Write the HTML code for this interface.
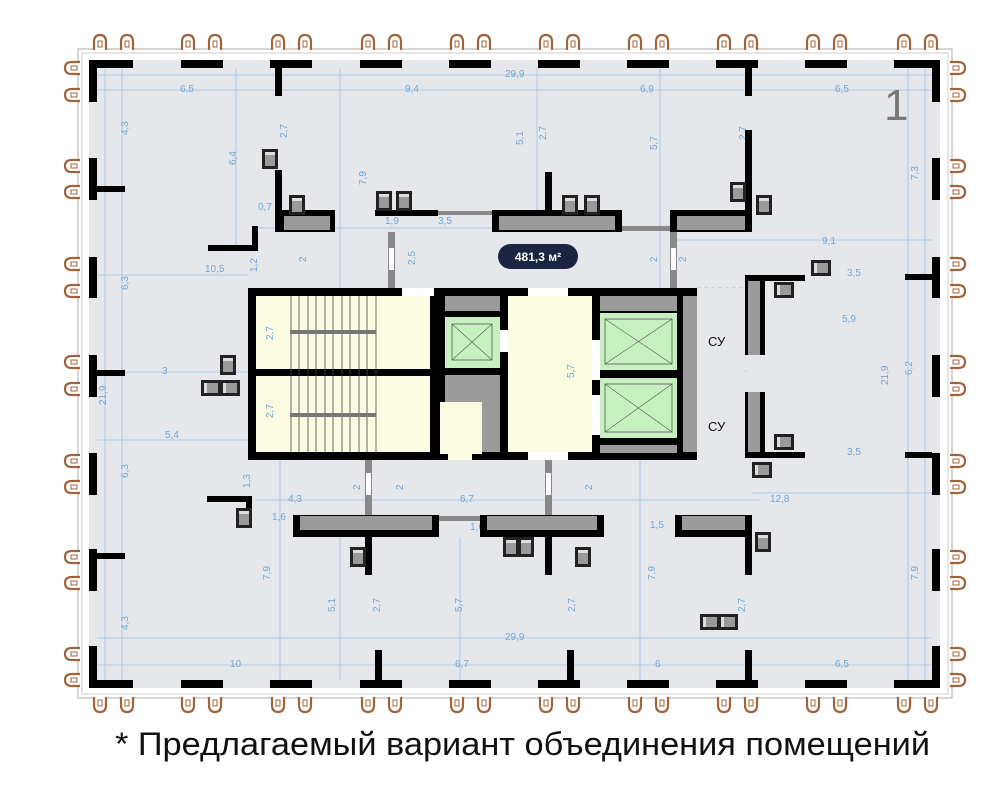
<!DOCTYPE html>
<html><head><meta charset="utf-8"><style>
html,body{margin:0;padding:0;background:#fff;width:1000px;height:804px;overflow:hidden}
svg{display:block}
.d{font-family:"Liberation Sans",sans-serif;font-size:10px;fill:#6fa6d6}
.dl{stroke:#9cc3e6;stroke-width:0.8;fill:none}
</style></head><body>
<svg width="1000" height="804" viewBox="0 0 1000 804" xmlns="http://www.w3.org/2000/svg">
<defs>
<g id="arch"><path d="M-6 10 L-6 2 Q-6 -5 0 -5 Q6 -5 6 2 L6 10" fill="#fff" stroke="#a0643c" stroke-width="2.2"/><rect x="-2" y="1" width="4" height="6" fill="#fff" stroke="#a0643c" stroke-width="1"/></g>
<g id="box"><rect x="0" y="0" width="16" height="20" fill="#222"/><rect x="3" y="3" width="10" height="14" fill="#9a9a9a"/><rect x="3" y="3" width="10" height="3" fill="#ddd"/></g>
</defs>
<!-- frame -->
<rect x="78" y="49" width="874" height="649" fill="#fff" stroke="#bbb" stroke-width="1.2"/>
<rect x="82" y="53" width="866" height="641" fill="none" stroke="#ccc" stroke-width="1"/>
<rect x="89" y="60" width="851" height="628" fill="#e6e7ea"/>
<g fill="#000">
<rect x="89" y="60" width="44" height="8"/><rect x="181" y="60" width="42" height="8"/><rect x="270" y="60" width="42" height="8"/><rect x="360" y="60" width="42" height="8"/><rect x="449" y="60" width="42" height="8"/><rect x="538" y="60" width="42" height="8"/><rect x="627" y="60" width="42" height="8"/><rect x="716" y="60" width="42" height="8"/><rect x="805" y="60" width="42" height="8"/><rect x="894" y="60" width="46" height="8"/>
<rect x="89" y="680" width="44" height="8"/><rect x="181" y="680" width="42" height="8"/><rect x="270" y="680" width="42" height="8"/><rect x="360" y="680" width="42" height="8"/><rect x="449" y="680" width="42" height="8"/><rect x="538" y="680" width="42" height="8"/><rect x="627" y="680" width="42" height="8"/><rect x="716" y="680" width="42" height="8"/><rect x="805" y="680" width="42" height="8"/><rect x="894" y="680" width="46" height="8"/>
<rect x="89" y="60" width="8" height="42"/><rect x="89" y="158" width="8" height="42"/><rect x="89" y="257" width="8" height="41"/><rect x="89" y="355" width="8" height="42"/><rect x="89" y="453" width="8" height="42"/><rect x="89" y="549" width="8" height="42"/><rect x="89" y="646" width="8" height="42"/>
<rect x="932" y="60" width="8" height="42"/><rect x="932" y="158" width="8" height="42"/><rect x="932" y="257" width="8" height="41"/><rect x="932" y="355" width="8" height="42"/><rect x="932" y="453" width="8" height="42"/><rect x="932" y="549" width="8" height="42"/><rect x="932" y="646" width="8" height="42"/>
</g>
<g>
<use href="#arch" x="100" y="40"/><use href="#arch" x="127" y="40"/><use href="#arch" x="188" y="40"/><use href="#arch" x="215" y="40"/><use href="#arch" x="278" y="40"/><use href="#arch" x="305" y="40"/><use href="#arch" x="368" y="40"/><use href="#arch" x="395" y="40"/><use href="#arch" x="457" y="40"/><use href="#arch" x="484" y="40"/><use href="#arch" x="546" y="40"/><use href="#arch" x="573" y="40"/><use href="#arch" x="635" y="40"/><use href="#arch" x="662" y="40"/><use href="#arch" x="724" y="40"/><use href="#arch" x="751" y="40"/><use href="#arch" x="813" y="40"/><use href="#arch" x="840" y="40"/><use href="#arch" x="904" y="40"/><use href="#arch" x="931" y="40"/>
<g transform="translate(0,1410) scale(1,-1)">
<use href="#arch" x="100" y="703"/><use href="#arch" x="127" y="703"/><use href="#arch" x="188" y="703"/><use href="#arch" x="215" y="703"/><use href="#arch" x="278" y="703"/><use href="#arch" x="305" y="703"/><use href="#arch" x="368" y="703"/><use href="#arch" x="395" y="703"/><use href="#arch" x="457" y="703"/><use href="#arch" x="484" y="703"/><use href="#arch" x="546" y="703"/><use href="#arch" x="573" y="703"/><use href="#arch" x="635" y="703"/><use href="#arch" x="662" y="703"/><use href="#arch" x="724" y="703"/><use href="#arch" x="751" y="703"/><use href="#arch" x="813" y="703"/><use href="#arch" x="840" y="703"/><use href="#arch" x="904" y="703"/><use href="#arch" x="931" y="703"/>
</g>
<g transform="rotate(-90)">
<use href="#arch" x="-68" y="70"/><use href="#arch" x="-95" y="70"/><use href="#arch" x="-166" y="70"/><use href="#arch" x="-192" y="70"/><use href="#arch" x="-264" y="70"/><use href="#arch" x="-291" y="70"/><use href="#arch" x="-362" y="70"/><use href="#arch" x="-389" y="70"/><use href="#arch" x="-461" y="70"/><use href="#arch" x="-487" y="70"/><use href="#arch" x="-557" y="70"/><use href="#arch" x="-583" y="70"/><use href="#arch" x="-654" y="70"/><use href="#arch" x="-680" y="70"/>
</g>
<g transform="rotate(90)">
<use href="#arch" x="68" y="-960"/><use href="#arch" x="95" y="-960"/><use href="#arch" x="166" y="-960"/><use href="#arch" x="192" y="-960"/><use href="#arch" x="264" y="-960"/><use href="#arch" x="291" y="-960"/><use href="#arch" x="362" y="-960"/><use href="#arch" x="389" y="-960"/><use href="#arch" x="461" y="-960"/><use href="#arch" x="487" y="-960"/><use href="#arch" x="557" y="-960"/><use href="#arch" x="583" y="-960"/><use href="#arch" x="654" y="-960"/><use href="#arch" x="680" y="-960"/>
</g>
</g>
<!-- dimension lines -->
<g class="dl">
<line x1="97" y1="90" x2="932" y2="90"/><line x1="97" y1="75" x2="932" y2="75"/>
<line x1="97" y1="638" x2="932" y2="638"/><line x1="97" y1="665" x2="932" y2="665"/>
<line x1="97" y1="275" x2="248" y2="275"/><line x1="97" y1="372" x2="248" y2="372"/><line x1="97" y1="440" x2="248" y2="440"/>
<line x1="105" y1="68" x2="105" y2="680"/><line x1="122" y1="68" x2="122" y2="680"/>
<line x1="236" y1="68" x2="236" y2="250"/><line x1="340" y1="68" x2="340" y2="288"/><line x1="537" y1="68" x2="537" y2="232"/><line x1="660" y1="68" x2="660" y2="288"/>
<line x1="908" y1="68" x2="908" y2="680"/><line x1="925" y1="68" x2="925" y2="680"/>
<line x1="675" y1="240" x2="932" y2="240"/><line x1="752" y1="493" x2="932" y2="493"/>
<line x1="255" y1="500" x2="760" y2="500"/><line x1="280" y1="460" x2="280" y2="680"/><line x1="640" y1="460" x2="640" y2="680"/>
<line x1="340" y1="537" x2="340" y2="680"/><line x1="460" y1="537" x2="460" y2="680"/>
<line x1="258" y1="228" x2="632" y2="228"/>
</g>
<g class="d">
<text x="180" y="92">6,5</text><text x="405" y="92">9,4</text><text x="505" y="77">29,9</text><text x="640" y="92">6,9</text><text x="835" y="92">6,5</text>
<text x="230" y="667">10</text><text x="455" y="667">6,7</text><text x="655" y="667">6</text><text x="835" y="667">6,5</text><text x="505" y="640">29,9</text>
<text x="205" y="272">10,5</text><text x="162" y="374">3</text><text x="165" y="438">5,4</text>
<text x="288" y="502">4,3</text><text x="460" y="502">6,7</text><text x="770" y="502">12,8</text>
<text x="272" y="520">1,6</text><text x="470" y="530">1,6</text><text x="650" y="528">1,5</text>
<text x="385" y="224">1,9</text><text x="438" y="224">3,5</text><text x="822" y="244">9,1</text><text x="847" y="276">3,5</text><text x="847" y="455">3,5</text>
<text x="842" y="322">5,9</text><text x="712" y="306">1,7</text><text x="458" y="416">1,4</text><text x="547" y="313">3</text>
<text x="333" y="312">6,6</text><text x="333" y="443">6,6</text><text x="258" y="210">0,7</text>
<g transform="rotate(-90)">
<text x="-135" y="128">4,3</text><text x="-290" y="128">6,3</text><text x="-405" y="106">21,9</text><text x="-478" y="128">6,3</text><text x="-630" y="128">4,3</text>
<text x="-165" y="236">6,4</text><text x="-138" y="287">2,7</text><text x="-185" y="366">7,9</text><text x="-145" y="523">5,1</text><text x="-140" y="546">2,7</text><text x="-150" y="657">5,7</text><text x="-140" y="746">2,7</text>
<text x="-272" y="257">1,2</text><text x="-262" y="306">2</text><text x="-265" y="415">2,5</text><text x="-262" y="657">2</text><text x="-262" y="686">2</text>
<text x="-180" y="918">7,3</text><text x="-385" y="888">21,9</text><text x="-375" y="912">6,2</text><text x="-580" y="918">7,9</text><text x="-580" y="655">7,9</text><text x="-580" y="270">7,9</text>
<text x="-612" y="335">5,1</text><text x="-612" y="380">2,7</text><text x="-612" y="462">5,7</text><text x="-612" y="575">2,7</text><text x="-612" y="745">2,7</text>
<text x="-340" y="272">2,7</text><text x="-420" y="272">2,7</text><text x="-380" y="577">5,7</text><text x="-385" y="730">1,2</text><text x="-378" y="745">1,2</text>
<text x="-488" y="250">1,3</text><text x="-490" y="360">2</text><text x="-490" y="403">2</text><text x="-490" y="592">2</text>
</g>
</g>
<!-- partitions -->
<g fill="#000">
<rect x="97" y="186" width="28" height="6"/><rect x="97" y="370" width="28" height="6"/><rect x="97" y="553" width="28" height="6"/>
<rect x="905" y="274" width="27" height="6"/><rect x="905" y="452" width="27" height="6"/>
<rect x="275" y="68" width="7" height="28"/><rect x="275" y="170" width="7" height="62"/>
<rect x="745" y="68" width="7" height="28"/><rect x="745" y="130" width="7" height="102"/>
<rect x="208" y="245" width="50" height="6"/><rect x="252" y="226" width="6" height="25"/>
<rect x="207" y="496" width="45" height="6"/><rect x="246" y="496" width="6" height="26"/>
<rect x="545" y="172" width="7" height="38"/>
<rect x="365" y="537" width="7" height="38"/><rect x="545" y="537" width="7" height="38"/><rect x="745" y="530" width="7" height="45"/>
<rect x="375" y="650" width="7" height="30"/><rect x="567" y="650" width="7" height="30"/><rect x="745" y="650" width="7" height="30"/>
</g>
<rect x="282" y="210" width="53" height="22" fill="#000"/><rect x="284" y="216" width="46" height="14" fill="#9b9b9b"/>
<rect x="375" y="210" width="63" height="6" fill="#000"/><rect x="438" y="211" width="55" height="4" fill="#888"/>
<rect x="492" y="210" width="130" height="22" fill="#000"/><rect x="499" y="216" width="116" height="14" fill="#9b9b9b"/>
<rect x="622" y="226" width="48" height="5" fill="#888"/>
<rect x="670" y="210" width="82" height="22" fill="#000"/><rect x="677" y="216" width="68" height="14" fill="#9b9b9b"/>
<rect x="293" y="515" width="146" height="22" fill="#000"/><rect x="300" y="516" width="132" height="14" fill="#9b9b9b"/>
<rect x="439" y="516" width="41" height="5" fill="#888"/>
<rect x="480" y="515" width="124" height="22" fill="#000"/><rect x="487" y="516" width="110" height="14" fill="#9b9b9b"/>
<rect x="675" y="515" width="77" height="22" fill="#000"/><rect x="682" y="516" width="63" height="14" fill="#9b9b9b"/>
<rect x="388" y="232" width="7" height="56" fill="#888"/><rect x="389" y="248" width="5" height="22" fill="#fff"/>
<rect x="670" y="232" width="7" height="56" fill="#888"/><rect x="671" y="248" width="5" height="22" fill="#fff"/>
<rect x="365" y="458" width="7" height="57" fill="#888"/><rect x="366" y="473" width="5" height="22" fill="#fff"/>
<rect x="545" y="458" width="7" height="57" fill="#888"/><rect x="546" y="473" width="5" height="22" fill="#fff"/>
<rect x="745" y="275" width="60" height="6" fill="#000"/><rect x="745" y="275" width="20" height="80" fill="#000"/><rect x="748" y="281" width="12" height="74" fill="#9b9b9b"/>
<rect x="745" y="392" width="20" height="66" fill="#000"/><rect x="748" y="392" width="12" height="60" fill="#9b9b9b"/><rect x="745" y="452" width="60" height="6" fill="#000"/>
<line x1="697" y1="372" x2="745" y2="372" stroke="#aaa" stroke-dasharray="4 3"/><line x1="697" y1="288" x2="745" y2="288" stroke="#bbb" stroke-dasharray="4 3"/><line x1="697" y1="458" x2="745" y2="458" stroke="#bbb" stroke-dasharray="4 3"/>
<use href="#box" x="262" y="149"/><use href="#box" x="289" y="195"/><use href="#box" x="376" y="191"/><use href="#box" x="396" y="191"/>
<use href="#box" x="562" y="195"/><use href="#box" x="584" y="195"/><use href="#box" x="730" y="182"/><use href="#box" x="756" y="195"/>
<use href="#box" x="813" y="258" transform="rotate(-90 821 268)"/><use href="#box" x="776" y="280" transform="rotate(-90 784 290)"/>
<use href="#box" x="220" y="355"/><use href="#box" x="203" y="378" transform="rotate(-90 211 388)"/><use href="#box" x="222" y="378" transform="rotate(-90 230 388)"/>
<use href="#box" x="776" y="432" transform="rotate(-90 784 442)"/><use href="#box" x="754" y="460" transform="rotate(-90 762 470)"/>
<use href="#box" x="236" y="508"/><use href="#box" x="350" y="547"/><use href="#box" x="503" y="537"/><use href="#box" x="518" y="537"/><use href="#box" x="575" y="547"/><use href="#box" x="755" y="532"/>
<use href="#box" x="702" y="612" transform="rotate(-90 710 622)"/><use href="#box" x="720" y="612" transform="rotate(-90 728 622)"/>
<!-- core -->
<rect x="248" y="288" width="449" height="172" fill="#000"/>
<rect x="256" y="296" width="174" height="73" fill="#fbfbe2"/><rect x="256" y="376" width="174" height="76" fill="#fbfbe2"/>
<g stroke="#444" stroke-width="0.8">
<line x1="291" y1="296" x2="291" y2="452"/><line x1="299" y1="296" x2="299" y2="452"/><line x1="308" y1="296" x2="308" y2="452"/><line x1="316" y1="296" x2="316" y2="452"/><line x1="325" y1="296" x2="325" y2="452"/><line x1="333" y1="296" x2="333" y2="452"/><line x1="342" y1="296" x2="342" y2="452"/><line x1="350" y1="296" x2="350" y2="452"/><line x1="359" y1="296" x2="359" y2="452"/><line x1="367" y1="296" x2="367" y2="452"/><line x1="376" y1="296" x2="376" y2="452"/>
</g>
<rect x="290" y="330" width="86" height="4" fill="#777"/><rect x="290" y="413" width="86" height="4" fill="#777"/>
<rect x="402" y="288" width="32" height="8" fill="#fff"/>
<rect x="445" y="296" width="55" height="15" fill="#9b9b9b"/>
<rect x="445" y="317" width="55" height="51" fill="#c7f0c0"/><rect x="452" y="324" width="40" height="36" fill="none" stroke="#555" stroke-width="0.8"/><line x1="452" y1="324" x2="492" y2="360" stroke="#555" stroke-width="0.6"/><line x1="492" y1="324" x2="452" y2="360" stroke="#555" stroke-width="0.6"/>
<rect x="445" y="375" width="55" height="28" fill="#9b9b9b"/>
<rect x="440" y="402" width="42" height="52" fill="#fbfbe2"/><rect x="482" y="402" width="18" height="50" fill="#9b9b9b"/>
<rect x="448" y="452" width="24" height="8" fill="#fbfbe2"/>
<rect x="508" y="296" width="84" height="156" fill="#fbfbe2"/><rect x="528" y="288" width="40" height="8" fill="#fff"/><rect x="528" y="452" width="40" height="8" fill="#fff"/>
<rect x="500" y="330" width="8" height="22" fill="#fff"/><rect x="592" y="340" width="8" height="40" fill="#fff"/><rect x="592" y="395" width="8" height="40" fill="#fff"/>
<rect x="600" y="296" width="77" height="15" fill="#9b9b9b"/>
<rect x="600" y="313" width="77" height="57" fill="#c7f0c0"/><rect x="605" y="319" width="67" height="45" fill="none" stroke="#555" stroke-width="0.8"/><line x1="605" y1="319" x2="672" y2="364" stroke="#555" stroke-width="0.6"/><line x1="672" y1="319" x2="605" y2="364" stroke="#555" stroke-width="0.6"/>
<rect x="600" y="378" width="77" height="60" fill="#c7f0c0"/><rect x="605" y="384" width="67" height="48" fill="none" stroke="#555" stroke-width="0.8"/><line x1="605" y1="384" x2="672" y2="432" stroke="#555" stroke-width="0.6"/><line x1="672" y1="384" x2="605" y2="432" stroke="#555" stroke-width="0.6"/>
<rect x="600" y="445" width="77" height="8" fill="#9b9b9b"/>
<rect x="683" y="296" width="14" height="156" fill="#9b9b9b"/>
<rect x="697" y="288" width="48" height="172" fill="#e6e7ea"/>
<text x="708" y="346" font-family="Liberation Sans,sans-serif" font-size="13" fill="#111">СУ</text>
<text x="708" y="431" font-family="Liberation Sans,sans-serif" font-size="13" fill="#111">СУ</text>
<g class="d"><text x="265" y="340" transform="rotate(-90 269 336)">2,7</text><text x="265" y="418" transform="rotate(-90 269 414)">2,7</text><text x="566" y="378" transform="rotate(-90 570 374)">5,7</text></g>
<rect x="498" y="244" width="80" height="25" rx="12.5" fill="#1b2541"/>
<text x="538" y="261" text-anchor="middle" font-family="Liberation Sans,sans-serif" font-size="12" font-weight="bold" fill="#fff">481,3 м²</text>
<text x="884" y="120" font-family="Liberation Sans,sans-serif" font-size="44" fill="#777">1</text>
<text x="115" y="755" textLength="815" lengthAdjust="spacingAndGlyphs" font-family="Liberation Sans,sans-serif" font-size="32" fill="#111">* Предлагаемый вариант объединения помещений</text>
</svg>
</body></html>
